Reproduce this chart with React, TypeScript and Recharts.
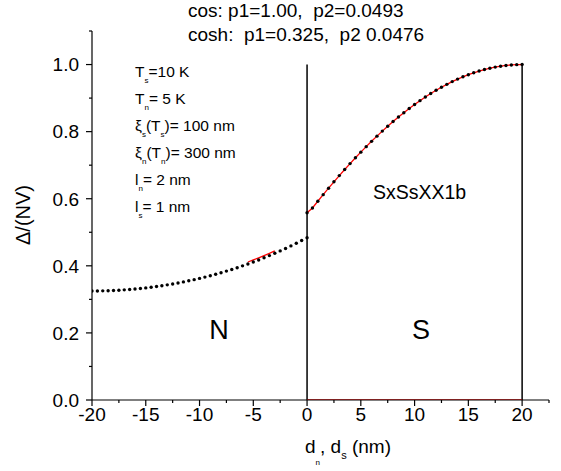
import React from 'react'
import { LineChart, Line, XAxis, YAxis, ReferenceLine } from 'recharts'

// N side: dn from -20 to 0 nm, 0.5 nm steps
const nX = [
  -20, -19.5, -19, -18.5, -18, -17.5, -17, -16.5, -16, -15.5, -15, -14.5, -14, -13.5,
  -13, -12.5, -12, -11.5, -11, -10.5, -10, -9.5, -9, -8.5, -8, -7.5, -7, -6.5, -6,
  -5.5, -5, -4.5, -4, -3.5, -3, -2.5, -2, -1.5, -1, -0.5, 0
]
const nValues = [
  0.325, 0.3251, 0.3254, 0.3258, 0.3265, 0.3273, 0.3283, 0.3295, 0.3309, 0.3325,
  0.3342, 0.3362, 0.3383, 0.3407, 0.3432, 0.3459, 0.3488, 0.352, 0.3553, 0.3588,
  0.3625, 0.3664, 0.3706, 0.3749, 0.3795, 0.3842, 0.3892, 0.3944, 0.3999, 0.4055,
  0.4114, 0.4175, 0.4239, 0.4305, 0.4373, 0.4444, 0.4518, 0.4594, 0.4672, 0.4753, 0.4837
]

// S side: ds from 0 to 20 nm
const sX = [
  0, 0.5, 1, 1.5, 2, 2.5, 3, 3.5, 4, 4.5, 5, 5.5, 6, 6.5, 7, 7.5, 8, 8.5, 9, 9.5, 10,
  10.5, 11, 11.5, 12, 12.5, 13, 13.5, 14, 14.5, 15, 15.5, 16, 16.5, 17, 17.5, 18, 18.5,
  19, 19.5, 20
]
const sValues = [
  0.558, 0.5724, 0.5925, 0.6121, 0.6314, 0.6504, 0.6689, 0.687, 0.7047, 0.722, 0.7388,
  0.7552, 0.7711, 0.7866, 0.8016, 0.8161, 0.83, 0.8435, 0.8565, 0.869, 0.8809, 0.8923,
  0.9032, 0.9135, 0.9232, 0.9324, 0.941, 0.9491, 0.9566, 0.9635, 0.9698, 0.9755, 0.9806,
  0.9851, 0.9891, 0.9924, 0.9951, 0.9973, 0.9988, 0.9997, 1.0
]

// short red fit piece on N side
const nFitX = [-5.5, -5, -4.5, -4, -3.5, -3]
const nFitValues = [0.4114, 0.4175, 0.4239, 0.4305, 0.4373, 0.4444]

// red zero line on S side
const zeroX = [0, 20]
const zeroValues = [0, 0]

const xTicks = [-20, -17.5, -15, -12.5, -10, -7.5, -5, -2.5, 0, 2.5, 5, 7.5, 10, 12.5, 15, 17.5, 20, 22.5]
const yTicks = [0, 0.1, 0.2, 0.3, 0.4, 0.5, 0.6, 0.7, 0.8, 0.9, 1.0, 1.1]

const toPts = (xs: number[], ys: number[]) => xs.map((x, i) => ({ x, y: ys[i] }))
const nData = toPts(nX, nValues)
const sData = toPts(sX, sValues)
const nFitData = toPts(nFitX, nFitValues)
const zeroData = toPts(zeroX, zeroValues)

const FONT = '"Liberation Sans", Arial, sans-serif'

const XTick = ({ x, y, payload }: any) => {
  const v = payload.value
  const major = Math.abs(v % 5) < 1e-6
  return (
    <g>
      <line x1={x} x2={x} y1={y} y2={y + (major ? 6 : 3)} stroke="#000" strokeWidth={1.2} />
      {major && (
        <text x={x} y={y + 21} textAnchor="middle" fontSize={19} fontFamily={FONT} fill="#000">
          {v}
        </text>
      )}
    </g>
  )
}

const YTick = ({ x, y, payload }: any) => {
  const v = payload.value
  const major = Math.round(v * 10) % 2 === 0
  return (
    <g>
      <line x1={x} x2={x - (major ? 6 : 3)} y1={y} y2={y} stroke="#000" strokeWidth={1.2} />
      {major && (
        <text x={x - 13} y={y} dy="0.36em" textAnchor="end" fontSize={19} fontFamily={FONT} fill="#000">
          {v.toFixed(1)}
        </text>
      )}
    </g>
  )
}

const Sub = ({ children }: any) => (
  <tspan fontSize={8} dy={6}>{children}</tspan>
)

export default function App() {
  const txt = { fontFamily: FONT, fill: '#000' }
  const lineY = [77, 104, 131, 158, 185, 212]
  return (
    <div style={{ position: 'fixed', left: 0, top: 0, width: 561, height: 471, background: '#fff' }}>
      <LineChart width={561} height={471} margin={{ top: 31, right: 12, left: 32, bottom: 31 }}>
        <XAxis
          dataKey="x"
          type="number"
          domain={[-20, 22.5]}
          ticks={xTicks}
          interval={0}
          allowDataOverflow
          height={40}
          tickSize={0}
          tickMargin={0}
          tickLine={false}
          axisLine={{ stroke: '#000', strokeWidth: 1.2 }}
          tick={<XTick />}
        />
        <YAxis
          dataKey="y"
          type="number"
          domain={[0, 1.1]}
          ticks={yTicks}
          interval={0}
          allowDataOverflow
          width={60}
          tickSize={0}
          tickMargin={0}
          tickLine={false}
          axisLine={{ stroke: '#000', strokeWidth: 1.2 }}
          tick={<YTick />}
        />
        <ReferenceLine segment={[{ x: 0, y: 0 }, { x: 0, y: 1 }]} stroke="#000" strokeWidth={1.5} />
        <ReferenceLine segment={[{ x: 20, y: 0 }, { x: 20, y: 1 }]} stroke="#000" strokeWidth={1.5} />
        <Line data={nData} dataKey="y" stroke="none" dot={{ r: 1.7, fill: '#000', stroke: 'none' }} isAnimationActive={false} />
        <Line data={sData} dataKey="y" stroke="none" dot={{ r: 1.7, fill: '#000', stroke: 'none' }} isAnimationActive={false} />
        <Line data={sData} dataKey="y" stroke="#ff0000" strokeWidth={1.3} dot={false} isAnimationActive={false} />
        <Line data={nFitData} dataKey="y" stroke="#ff0000" strokeWidth={1.3} dot={false} isAnimationActive={false} />
        <Line data={zeroData} dataKey="y" stroke="#ff0000" strokeWidth={1.5} dot={false} isAnimationActive={false} />
      </LineChart>
      <svg width={561} height={471} style={{ position: 'absolute', left: 0, top: 0, pointerEvents: 'none' }}>
        <text x={188} y={17} fontSize={19} {...txt} style={{ whiteSpace: 'pre' }}>cos: p1=1.00,  p2=0.0493</text>
        <text x={188} y={41} fontSize={19} {...txt} style={{ whiteSpace: 'pre' }}>cosh:  p1=0.325,  p2 0.0476</text>

        <text x={135} y={lineY[0]} fontSize={15.5} {...txt}>T<Sub>s</Sub><tspan dy={-6}>=10 K</tspan></text>
        <text x={135} y={lineY[1]} fontSize={15.5} {...txt}>T<Sub>n</Sub><tspan dy={-6}>= 5 K</tspan></text>
        <text x={135} y={lineY[2]} fontSize={15.5} {...txt}>ξ<Sub>s</Sub><tspan dy={-6}>(T</tspan><Sub>s</Sub><tspan dy={-6}>)= 100 nm</tspan></text>
        <text x={135} y={lineY[3]} fontSize={15.5} {...txt}>ξ<Sub>n</Sub><tspan dy={-6}>(T</tspan><Sub>n</Sub><tspan dy={-6}>)= 300 nm</tspan></text>
        <text x={135} y={lineY[4]} fontSize={15.5} {...txt}>l<Sub>n</Sub><tspan dy={-6}>= 2 nm</tspan></text>
        <text x={135} y={lineY[5]} fontSize={15.5} {...txt}>l<Sub>s</Sub><tspan dy={-6}>= 1 nm</tspan></text>

        <text x={373} y={199} fontSize={19.5} {...txt}>SxSsXX1b</text>
        <text x={219} y={339} fontSize={27} textAnchor="middle" {...txt}>N</text>
        <text x={421} y={339} fontSize={27} textAnchor="middle" {...txt}>S</text>

        <text x={305} y={453} fontSize={19} {...txt}>d<tspan fontSize={8} dy={12}>n</tspan><tspan dy={-12}>, d</tspan><tspan fontSize={11} dy={6}>s</tspan><tspan dy={-6}> (nm)</tspan></text>
        <text x={30} y={215} fontSize={20} textAnchor="middle" transform="rotate(-90 30 215)" {...txt}>Δ/(NV)</text>
      </svg>
    </div>
  )
}
